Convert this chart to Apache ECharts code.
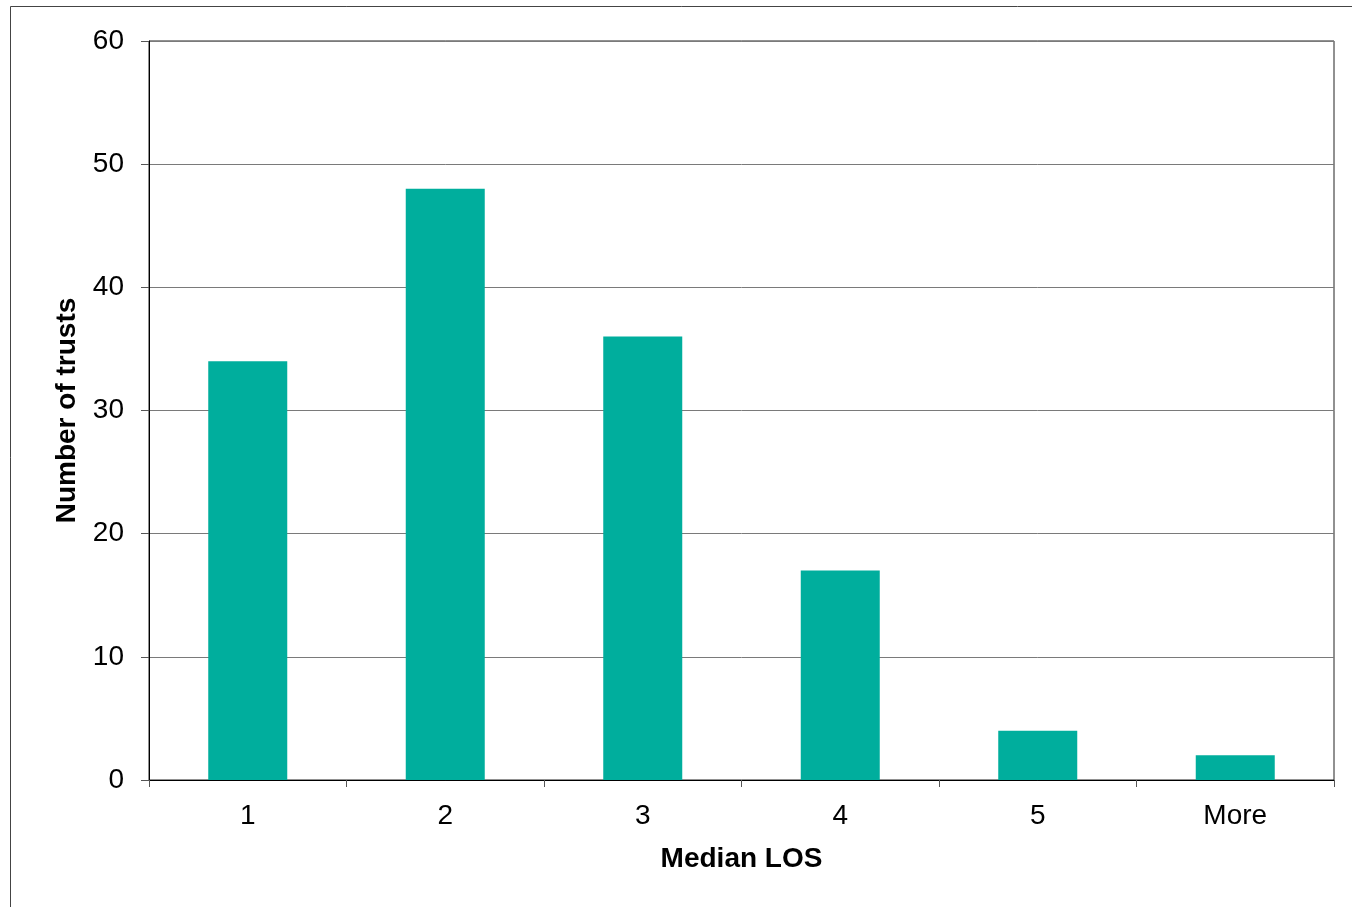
<!DOCTYPE html>
<html>
<head>
<meta charset="utf-8">
<script src="https://cdn.jsdelivr.net/npm/echarts@6/dist/echarts.min.js"></script>
<style>
html,body{margin:0;padding:0;background:#fff;}
#c{width:1352px;height:907px;}
</style>
</head>
<body>
<div id="c"></div>
<script>
const categories = ['1', '2', '3', '4', '5', 'More'];
const trustCounts = [34, 48, 36, 17, 4, 2];
const yTicks = [0, 10, 20, 30, 40, 50, 60];

const chart = echarts.init(document.getElementById('c'), null, {renderer: 'canvas'});
const font = '"Liberation Sans", Arial, sans-serif';
chart.setOption({
  animation: false,
  backgroundColor: '#fff',
  graphic: [{
    type: 'rect',
    shape: {x: 10.5, y: 6.5, width: 2000, height: 2000},
    style: {fill: 'none', stroke: '#444', lineWidth: 1},
    silent: true
  }],
  grid: {
    left: 149, right: 18, top: 41, bottom: 127,
    show: true, borderColor: '#222', borderWidth: 1, backgroundColor: 'transparent'
  },
  xAxis: {
    type: 'category',
    data: categories,
    name: 'Median LOS',
    nameLocation: 'middle',
    nameGap: 65,
    nameTextStyle: {fontFamily: font, fontSize: 28, fontWeight: 'bold', color: '#000'},
    axisLine: {lineStyle: {color: '#000', width: 1}},
    axisTick: {show: true, length: 7, alignWithLabel: false, lineStyle: {color: '#555'}},
    axisLabel: {fontFamily: font, fontSize: 28, color: '#000', margin: 22},
    splitLine: {show: false}
  },
  yAxis: {
    type: 'value',
    min: yTicks[0],
    max: yTicks[yTicks.length - 1],
    interval: 10,
    name: 'Number of trusts',
    nameLocation: 'middle',
    nameGap: 68,
    nameRotate: 90,
    nameTextStyle: {fontFamily: font, fontSize: 28, fontWeight: 'bold', color: '#000'},
    axisLine: {show: true, lineStyle: {color: '#000', width: 1}},
    axisTick: {show: true, length: 8, lineStyle: {color: '#555'}},
    axisLabel: {fontFamily: font, fontSize: 28, color: '#000', margin: 25, padding: [4, 0, 0, 0]},
    splitLine: {show: true, lineStyle: {color: '#7a7a7a', width: 1}}
  },
  series: [{
    type: 'bar',
    data: trustCounts,
    barWidth: '40%',
    itemStyle: {color: '#00AE9D'}
  }]
});
</script>
</body>
</html>
